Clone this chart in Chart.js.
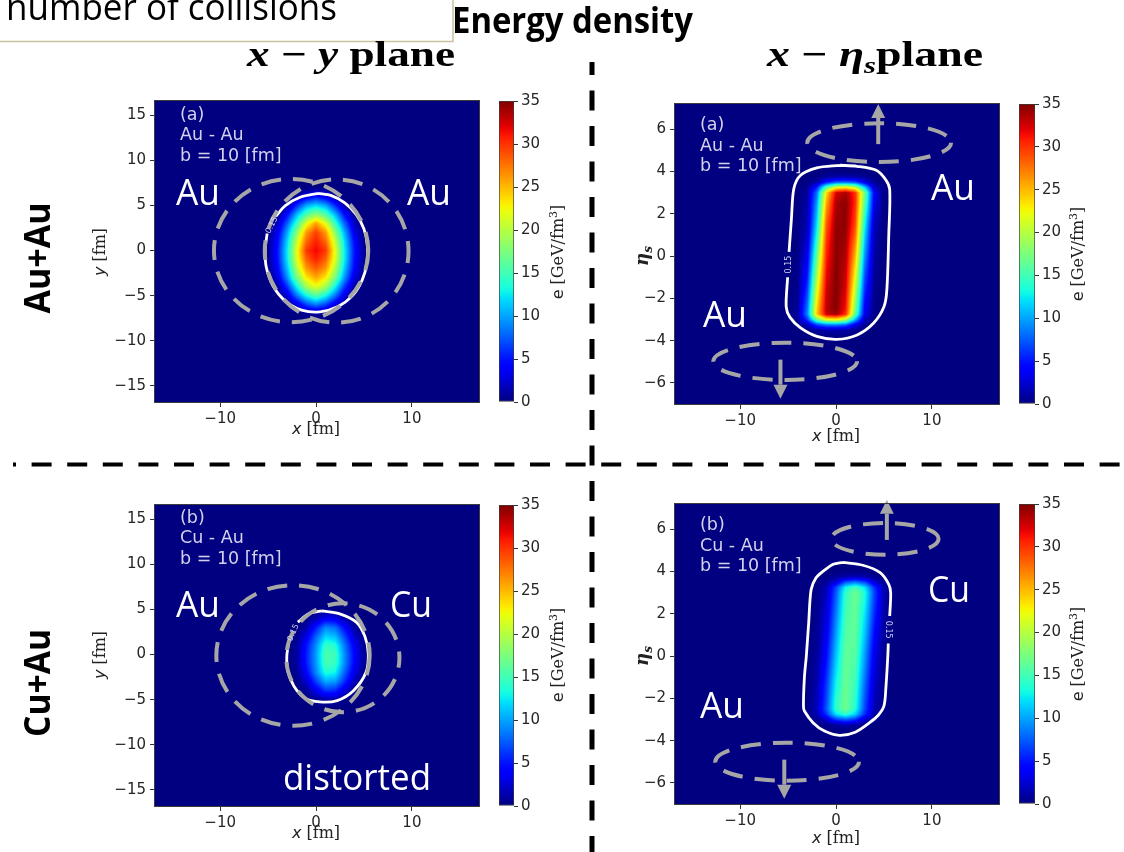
<!DOCTYPE html>
<html><head><meta charset="utf-8">
<script src="https://cdn.jsdelivr.net/npm/chart.js@4.4.1/dist/chart.umd.min.js"></script>
<style>
html,body{margin:0;padding:0;background:#fff;}
#page{position:relative;width:1124px;height:852px;overflow:hidden;background:#fff;}
canvas{position:absolute;}
#ov{position:absolute;left:0;top:0;pointer-events:none;}
</style></head><body>
<div id="page">
<canvas id="pA"></canvas><canvas id="pB"></canvas><canvas id="pC"></canvas><canvas id="pD"></canvas>
<canvas id="cA"></canvas><canvas id="cB"></canvas><canvas id="cC"></canvas><canvas id="cD"></canvas>
<svg id="ov" width="1124" height="852" xmlns="http://www.w3.org/2000/svg">
  <rect x="-3" y="-10" width="456" height="51.5" fill="none" stroke="#c9c19f" stroke-width="1.5"/>
  <text x="6" y="20" font-family="'Open Sans'" font-size="36" fill="#000" textLength="331" lengthAdjust="spacingAndGlyphs">number of collisions</text>
  <text x="452" y="33" font-family="'Open Sans'" font-weight="bold" font-size="36" fill="#000" textLength="241" lengthAdjust="spacingAndGlyphs">Energy density</text>
  <text x="247" y="65.5" font-family="'Liberation Serif'" font-weight="bold" font-size="36" fill="#000" textLength="208" lengthAdjust="spacingAndGlyphs"><tspan font-style="italic">x</tspan> − <tspan font-style="italic">y</tspan> plane</text>
  <text x="767" y="65.5" font-family="'Liberation Serif'" font-weight="bold" font-size="36" fill="#000" textLength="216" lengthAdjust="spacingAndGlyphs"><tspan font-style="italic">x</tspan> − <tspan font-style="italic">η</tspan><tspan font-style="italic" font-size="24" dy="7">s</tspan><tspan dy="-7">plane</tspan></text>
  <line x1="592" y1="62" x2="592" y2="852" stroke="#000" stroke-width="5" stroke-dasharray="20 15.5" stroke-dashoffset="7"/>
  <line x1="13" y1="464.5" x2="1124" y2="464.5" stroke="#000" stroke-width="4" stroke-dasharray="20 15.6" stroke-dashoffset="17"/>
  <text transform="translate(50,258) rotate(-90)" text-anchor="middle" font-family="'Open Sans'" font-weight="bold" font-size="36" fill="#000" textLength="111" lengthAdjust="spacingAndGlyphs">Au+Au</text>
  <text transform="translate(50,683) rotate(-90)" text-anchor="middle" font-family="'Open Sans'" font-weight="bold" font-size="36" fill="#000" textLength="108" lengthAdjust="spacingAndGlyphs">Cu+Au</text>
  <g font-family="'Open Sans'" font-size="36" fill="#fff">
    <text x="176" y="205" textLength="44" lengthAdjust="spacingAndGlyphs">Au</text>
    <text x="407" y="205" textLength="44" lengthAdjust="spacingAndGlyphs">Au</text>
    <text x="931" y="200" textLength="44" lengthAdjust="spacingAndGlyphs">Au</text>
    <text x="703" y="326.5" textLength="44" lengthAdjust="spacingAndGlyphs">Au</text>
    <text x="176" y="616.5" textLength="44" lengthAdjust="spacingAndGlyphs">Au</text>
    <text x="390" y="616.5" textLength="42" lengthAdjust="spacingAndGlyphs">Cu</text>
    <text x="283" y="790" textLength="148" lengthAdjust="spacingAndGlyphs">distorted</text>
    <text x="928" y="601.5" textLength="42" lengthAdjust="spacingAndGlyphs">Cu</text>
    <text x="700" y="718" textLength="44" lengthAdjust="spacingAndGlyphs">Au</text>
  </g>
  <g font-family="'DejaVu Sans'" font-size="17.5" fill="#d2d2ee">
    <text x="180" y="119.5">(a)</text><text x="180" y="140">Au - Au</text><text x="180" y="160.5">b = 10 [fm]</text>
    <text x="700" y="130">(a)</text><text x="700" y="150.5">Au - Au</text><text x="700" y="171">b = 10 [fm]</text>
    <text x="180" y="522.5">(b)</text><text x="180" y="543">Cu - Au</text><text x="180" y="563.5">b = 10 [fm]</text>
    <text x="700" y="530">(b)</text><text x="700" y="550.5">Cu - Au</text><text x="700" y="571">b = 10 [fm]</text>
  </g>
  <g font-size="16" fill="#222">
    <text x="316" y="434" text-anchor="middle"><tspan font-family="'DejaVu Sans'" font-style="italic">x</tspan><tspan font-family="'DejaVu Serif'"> [fm]</tspan></text>
    <text x="836" y="441" text-anchor="middle"><tspan font-family="'DejaVu Sans'" font-style="italic">x</tspan><tspan font-family="'DejaVu Serif'"> [fm]</tspan></text>
    <text x="316" y="838" text-anchor="middle"><tspan font-family="'DejaVu Sans'" font-style="italic">x</tspan><tspan font-family="'DejaVu Serif'"> [fm]</tspan></text>
    <text x="836" y="843" text-anchor="middle"><tspan font-family="'DejaVu Sans'" font-style="italic">x</tspan><tspan font-family="'DejaVu Serif'"> [fm]</tspan></text>
    <text transform="translate(105,252) rotate(-90)" text-anchor="middle"><tspan font-family="'DejaVu Sans'" font-style="italic">y</tspan><tspan font-family="'DejaVu Serif'"> [fm]</tspan></text>
    <text transform="translate(105,655) rotate(-90)" text-anchor="middle"><tspan font-family="'DejaVu Sans'" font-style="italic">y</tspan><tspan font-family="'DejaVu Serif'"> [fm]</tspan></text>
    <text transform="translate(648,256) rotate(-90)" text-anchor="middle" font-family="'DejaVu Serif'" font-weight="bold" font-style="italic" font-size="18">η<tspan font-size="12" dy="4">s</tspan></text>
    <text transform="translate(648,656) rotate(-90)" text-anchor="middle" font-family="'DejaVu Serif'" font-weight="bold" font-style="italic" font-size="18">η<tspan font-size="12" dy="4">s</tspan></text>
    <text transform="translate(563,252) rotate(-90)" text-anchor="middle"><tspan font-family="'DejaVu Sans'">e </tspan><tspan font-family="'DejaVu Serif'">[GeV/fm</tspan><tspan font-family="'DejaVu Serif'" font-size="11" dy="-6">3</tspan><tspan font-family="'DejaVu Serif'" dy="6">]</tspan></text>
    <text transform="translate(1083,254) rotate(-90)" text-anchor="middle"><tspan font-family="'DejaVu Sans'">e </tspan><tspan font-family="'DejaVu Serif'">[GeV/fm</tspan><tspan font-family="'DejaVu Serif'" font-size="11" dy="-6">3</tspan><tspan font-family="'DejaVu Serif'" dy="6">]</tspan></text>
    <text transform="translate(563,655) rotate(-90)" text-anchor="middle"><tspan font-family="'DejaVu Sans'">e </tspan><tspan font-family="'DejaVu Serif'">[GeV/fm</tspan><tspan font-family="'DejaVu Serif'" font-size="11" dy="-6">3</tspan><tspan font-family="'DejaVu Serif'" dy="6">]</tspan></text>
    <text transform="translate(1083,654) rotate(-90)" text-anchor="middle"><tspan font-family="'DejaVu Sans'">e </tspan><tspan font-family="'DejaVu Serif'">[GeV/fm</tspan><tspan font-family="'DejaVu Serif'" font-size="11" dy="-6">3</tspan><tspan font-family="'DejaVu Serif'" dy="6">]</tspan></text>
  </g>
  <g id="clabels" font-family="'DejaVu Sans'" font-size="8" fill="#d2d2f2"></g>
</svg>
</div>
<script>
// ---------------- data ----------------
const xTicks = [-10, 0, 10];
const yTicksXY = [-15, -10, -5, 0, 5, 10, 15];
const etaTicks = [-6, -4, -2, 0, 2, 4, 6];
const cbarTicks = [0, 5, 10, 15, 20, 25, 30, 35];

// (a) Au-Au, x-y plane: energy density e [GeV/fm^3]
const auauXY_x = [-6, -5, -4, -3, -2, -1, 0, 1, 2, 3, 4, 5, 6];
const auauXY_y = [7, 6, 5, 4, 3, 2, 1, 0, -1, -2, -3, -4, -5, -6, -7, -8];
const auauXY_e = [
  [0,0,0,0,0,0,0,0,0,0,0,0,0],
  [0,0,0,0,0.7,3.2,5.0,3.2,0.7,0,0,0,0],
  [0,0,0,0.9,5.8,10.2,11.8,10.2,5.8,0.9,0,0,0],
  [0,0,0.5,4.5,10.7,15.7,18.3,15.7,10.7,4.5,0.5,0,0],
  [0,0,1.9,7.7,14.6,21.9,26.0,21.9,14.6,7.7,1.9,0,0],
  [0,0.1,3.4,10.2,18.2,26.2,29.6,26.2,18.2,10.2,3.4,0.1,0],
  [0,0.45,4.5,11.7,20.6,28.1,30.8,28.1,20.6,11.7,4.5,0.45,0],
  [0,0.6,5.0,12.5,21.9,29.9,31.7,29.9,21.9,12.5,5.0,0.6,0],
  [0,0.6,4.8,12.3,21.5,28.2,30.7,28.2,21.5,12.3,4.8,0.6,0],
  [0,0.3,4.1,11.1,19.7,26.2,28.4,26.2,19.7,11.1,4.1,0.3,0],
  [0,0,2.8,9.3,17.2,23.2,25.6,23.2,17.2,9.3,2.8,0,0],
  [0,0,1.0,6.1,12.9,19.3,22.0,19.3,12.9,6.1,1.0,0,0],
  [0,0,0,2.6,8.4,13.0,15.7,13.0,8.4,2.6,0,0,0],
  [0,0,0,0.2,2.7,6.6,8.6,6.6,2.7,0.2,0,0,0],
  [0,0,0,0,0,0.5,0.8,0.5,0,0,0,0,0],
  [0,0,0,0,0,0,0,0,0,0,0,0,0]
];
const auauXY_contour = [[0.2,6.35],[1.6,6.1],[3.0,5.3],[4.2,4.0],[5.0,2.4],[5.35,0.6],[5.3,-1.4],[4.8,-3.3],[3.8,-5.0],[2.3,-6.2],[0.4,-6.8],[-1.5,-6.6],[-3.2,-5.6],[-4.5,-3.9],[-5.2,-1.8],[-5.3,0.2],[-5.1,1.9],null,[-4.2,3.8],[-3.2,5.0],[-1.6,5.95],[0.2,6.35]];

// (a) Au-Au, x-eta_s plane
const auauXE_x = [-5, -4, -3, -2, -1, 0, 1, 2, 3, 4, 5, 6];
const auauXE_eta = [4.0, 3.75, 3.5, 3.25, 3.0, 2.5, 2.0, 1.5, 1.0, 0.5, 0, -0.5, -1.0, -1.5, -2.0, -2.5, -2.75, -3.0, -3.25, -3.5, -3.75, -4.0];
const auauXE_e = [
  [0,0,0,0,0,0,0,0,0,0,0,0],
  [0,0,0,0.2,0.8,1.2,1.3,1.1,0.6,0.1,0,0],
  [0,0,0.1,1.1,4.9,7.3,7.7,6.8,3.1,0.5,0,0],
  [0,0,0.5,5.4,16.0,22.0,23.0,20.5,11.6,2.1,0.2,0],
  [0,0,0.9,8.3,23.5,32.3,33.8,30.2,17.1,3.8,0.2,0],
  [0,0,1.1,9.8,25.6,33.7,34.7,30.5,16.1,3.2,0.2,0],
  [0,0.1,1.3,10.9,27.1,34.0,34.6,29.8,14.5,2.4,0.1,0],
  [0,0.1,1.5,12.1,28.5,34.4,34.5,29.2,13.0,1.8,0.1,0],
  [0,0.1,2.0,13.5,29.4,34.6,34.3,28.0,11.7,1.4,0.1,0],
  [0,0.2,2.6,15.1,30.1,34.7,33.9,26.6,10.6,1.2,0,0],
  [0,0.2,3.4,16.6,30.7,34.7,33.5,25.2,9.4,1.0,0,0],
  [0,0.3,4.2,18.1,31.3,34.8,33.2,23.7,8.2,0.8,0,0],
  [0,0.3,5.1,19.6,31.9,34.9,32.8,22.3,7.0,0.6,0,0],
  [0,0.4,6.1,21.1,32.5,35.0,32.5,20.9,6.0,0.4,0,0],
  [0,0.6,7.3,22.6,32.9,34.9,31.8,19.3,4.9,0.3,0,0],
  [0,0.8,8.5,24.0,33.3,34.8,31.2,17.8,3.8,0.3,0,0],
  [0,0.9,8.9,24.3,32.8,34.1,30.2,16.6,3.4,0.2,0,0],
  [0,0.6,6.3,16.8,22.2,22.9,20.1,10.7,1.7,0.1,0,0],
  [0,0.2,1.6,6.6,8.7,9.0,7.9,3.4,0.5,0,0,0],
  [0,0,0.3,1.0,1.4,1.4,1.2,0.6,0.1,0,0,0],
  [0,0,0,0.2,0.3,0.3,0.3,0.1,0,0,0,0],
  [0,0,0,0,0,0,0,0,0,0,0,0]
];
const auauXE_contour = [[0.4,4.3],[2.2,4.25],[4.2,4.06],[5.2,3.6],[5.6,3.15],[5.5,1.0],[5.3,-1.6],[5.0,-2.4],[3.9,-3.18],[2.2,-3.73],[0.1,-3.94],[-2.0,-3.8],[-3.7,-3.4],[-4.8,-2.9],[-5.2,-2.4],[-5.05,-1.0],null,[-4.9,0.2],[-4.65,1.8],[-4.4,3.2],[-3.7,3.83],[-2.0,4.18],[0.4,4.3]];

// (b) Cu-Au, x-y plane
const cuauXY_x = [-4, -3, -2, -1, 0, 1, 2, 3, 4, 5, 6, 7];
const cuauXY_y = [6, 5, 4, 3, 2, 1, 0, -1, -2, -3, -4, -5, -6, -7];
const cuauXY_e = [
  [0,0,0,0,0,0,0,0,0,0,0,0],
  [0,0,0,0,0,0.3,0.25,0,0,0,0,0],
  [0,0,0,0.2,1.5,3.5,3.2,1.1,0.05,0,0,0],
  [0,0,0,1.3,5.2,9.0,8.2,4.4,0.9,0,0,0],
  [0,0,0.45,3.2,7.7,11.7,10.9,6.7,2.4,0.23,0,0],
  [0,0,0.82,4.9,9.3,14.5,13.8,8.4,3.7,0.53,0,0],
  [0,0,1.0,5.25,9.75,15.4,14.8,9.1,4.3,0.69,0,0],
  [0,0,0.93,5.15,9.6,15.1,14.5,9.0,4.1,0.63,0,0],
  [0,0,0.65,4.1,9.0,13.6,12.8,7.6,3.1,0.4,0,0],
  [0,0,0.23,2.3,6.5,10.1,9.7,5.7,1.6,0.03,0,0],
  [0,0,0,0.7,3.3,6.1,5.7,2.6,0.45,0,0,0],
  [0,0,0,0,0.5,1.2,1.1,0.4,0,0,0,0],
  [0,0,0,0,0,0,0,0,0,0,0,0],
  [0,0,0,0,0,0,0,0,0,0,0,0]
];
const cuauXY_contour = [[0.6,4.85],[2.4,4.55],[4.2,3.6],[5.1,2.0],[5.45,0.1],[5.2,-2.0],[3.9,-4.0],[2.2,-5.1],[0.4,-5.25],[-1.2,-4.8],[-2.3,-3.5],[-2.95,-1.8],[-3.05,-0.2],[-2.85,1.3],null,[-1.9,3.6],[-0.8,4.5],[0.6,4.85]];

// (b) Cu-Au, x-eta_s plane
const cuauXE_x = [-4, -3, -2, -1, 0, 1, 2, 3, 4, 5, 6, 7];
const cuauXE_eta = [4.25, 4.0, 3.75, 3.5, 3.25, 3.0, 2.5, 2.0, 1.5, 1.0, 0.5, 0, -0.5, -1.0, -1.5, -2.0, -2.5, -2.75, -3.0, -3.25, -3.5, -3.75];
const cuauXE_e = [
  [0,0,0,0,0,0,0,0,0,0,0,0],
  [0,0,0,0,0.1,0.2,0.2,0.2,0.1,0,0,0],
  [0,0,0,0.2,0.6,1.3,1.7,1.2,0.5,0.1,0,0],
  [0,0,0.1,0.8,2.9,7.2,8.5,6.8,2.5,0.6,0.1,0],
  [0,0,0.2,1.5,6.7,12.9,15.2,12.2,6.0,1.3,0.2,0],
  [0,0,0.2,1.8,7.4,14.3,16.9,13.6,6.7,1.5,0.2,0],
  [0,0,0.3,2.2,8.1,14.7,16.8,13.0,6.3,1.3,0.1,0],
  [0,0,0.4,2.6,8.7,15.1,16.6,12.3,5.7,1.1,0.1,0],
  [0,0,0.4,3.0,9.3,15.5,16.5,11.7,5.1,0.9,0.1,0],
  [0,0,0.6,3.4,9.9,15.8,16.3,11.1,4.4,0.8,0.1,0],
  [0,0,0.6,4.0,10.6,16.2,16.2,10.4,3.8,0.6,0,0],
  [0,0.1,0.8,4.5,11.2,16.4,15.8,9.8,3.3,0.5,0,0],
  [0,0.1,1.0,5.2,11.8,16.5,15.4,9.2,2.9,0.4,0,0],
  [0,0.1,1.1,5.8,12.5,16.6,15.0,8.5,2.5,0.4,0,0],
  [0,0.1,1.4,6.4,13.1,16.8,14.6,7.9,2.1,0.3,0,0],
  [0,0.2,1.5,6.8,13.9,16.9,14.2,7.3,1.8,0.2,0,0],
  [0,0.2,1.8,7.3,14.2,16.9,13.7,6.8,1.5,0.2,0,0],
  [0,0.2,1.4,6.2,12.1,14.4,11.6,5.8,1.2,0.1,0,0],
  [0,0.1,0.6,2.4,6.4,7.6,6.2,2.2,0.6,0.1,0,0],
  [0,0,0.2,0.4,1.0,1.4,1.0,0.4,0.1,0,0,0],
  [0,0,0,0.1,0.2,0.2,0.2,0.1,0,0,0,0],
  [0,0,0,0,0,0,0,0,0,0,0,0]
];
const cuauXE_contour = [[0.7,4.44],[2.8,4.3],[4.6,3.95],[5.5,3.4],[5.7,3.0],[5.6,1.9],null,[5.45,0.6],[5.4,0],[5.2,-1.5],[5.0,-2.36],[4.4,-2.8],[3.5,-3.15],[2.0,-3.6],[0.35,-3.75],[-1.2,-3.55],[-2.4,-3.15],[-3.3,-2.6],[-3.4,-2.36],[-3.3,-1.0],[-3.1,0],[-2.85,1.6],[-2.6,3.15],[-2.1,3.7],[-1.4,4.0],[-0.3,4.35],[0.7,4.44]];

// ---------------- colormap (jet) ----------------
const JR = [[0,0],[0.35,0],[0.66,1],[0.89,1],[1,0.5]];
const JG = [[0,0],[0.125,0],[0.375,1],[0.64,1],[0.91,0],[1,0]];
const JB = [[0,0.5],[0.11,1],[0.34,1],[0.65,0],[1,0]];
function seg(t, tab){
  if (t <= tab[0][0]) return tab[0][1];
  for (let k = 1; k < tab.length; k++){
    if (t <= tab[k][0]){ const a = tab[k-1], b = tab[k]; return a[1] + (b[1]-a[1])*(t-a[0])/(b[0]-a[0]); }
  }
  return tab[tab.length-1][1];
}
function jet(t){ t = Math.max(0, Math.min(1, t)); return [seg(t,JR)*255, seg(t,JG)*255, seg(t,JB)*255]; }
function jetCss(t){ const c = jet(t); return 'rgb(' + c.map(Math.round).join(',') + ')'; }

function prepGrid(xs, ys, z){
  let rows = ys.map((y, j) => ({y, r: z[j]}));
  rows.sort((a, b) => a.y - b.y);
  return {xs: xs.slice(), ys: rows.map(r => r.y), z: rows.map(r => r.r)};
}
function findSeg(arr, v){
  if (v < arr[0] || v > arr[arr.length-1]) return -1;
  for (let k = 0; k < arr.length-1; k++) if (v <= arr[k+1]) return k;
  return arr.length-2;
}
function sample(g, x, y){
  const i = findSeg(g.xs, x), j = findSeg(g.ys, y);
  if (i < 0 || j < 0) return 0;
  const tx = (x - g.xs[i])/(g.xs[i+1]-g.xs[i]), ty = (y - g.ys[j])/(g.ys[j+1]-g.ys[j]);
  const a = g.z[j][i], b = g.z[j][i+1], c = g.z[j+1][i], d = g.z[j+1][i+1];
  return (a*(1-tx)+b*tx)*(1-ty) + (c*(1-tx)+d*tx)*ty;
}

const VMAX = cbarTicks[cbarTicks.length-1];

const heatPlugin = {
  id: 'heat',
  beforeDatasetsDraw(chart){
    const ds = chart.data.datasets[0];
    if (!ds || !ds.grid) return;
    const g = ds.grid;
    const ca = chart.chartArea;
    const w = Math.round(ca.right - ca.left), h = Math.round(ca.bottom - ca.top);
    const off = document.createElement('canvas'); off.width = w; off.height = h;
    const octx = off.getContext('2d');
    const img = octx.createImageData(w, h);
    const sx = chart.scales.x, sy = chart.scales.y;
    const xv = []; for (let i = 0; i < w; i++) xv.push(sx.getValueForPixel(ca.left + i + 0.5));
    for (let j = 0; j < h; j++){
      const yv = sy.getValueForPixel(ca.top + j + 0.5);
      for (let i = 0; i < w; i++){
        const c = jet(sample(g, xv[i], yv)/VMAX);
        const p = (j*w + i)*4;
        img.data[p] = c[0]; img.data[p+1] = c[1]; img.data[p+2] = c[2]; img.data[p+3] = 255;
      }
    }
    octx.putImageData(img, 0, 0);
    chart.ctx.drawImage(off, ca.left, ca.top);
  },
  afterDatasetsDraw(chart, args, opts){
    const ctx = chart.ctx, sx = chart.scales.x, sy = chart.scales.y;
    ctx.save();
    ctx.strokeStyle = '#a6a6a6'; ctx.fillStyle = '#a6a6a6';
    ctx.lineWidth = 4; ctx.lineCap = 'butt';
    (opts.ellipses || []).forEach(e => {
      const cx = sx.getPixelForValue(e.cx), cy = sy.getPixelForValue(e.cy);
      const rx = Math.abs(sx.getPixelForValue(e.cx + e.rx) - cx), ry = Math.abs(sy.getPixelForValue(e.cy + e.ry) - cy);
      ctx.setLineDash([20, 12]); ctx.lineDashOffset = e.off || 0;
      ctx.beginPath(); ctx.ellipse(cx, cy, rx, ry, 0, 0, Math.PI*2); ctx.stroke();
    });
    ctx.setLineDash([]);
    (opts.arrows || []).forEach(a => {
      const x = sx.getPixelForValue(a.x), y0 = sy.getPixelForValue(a.y0), y1 = sy.getPixelForValue(a.y1);
      const dir = y1 < y0 ? -1 : 1, hl = 14, hw = 7;
      ctx.beginPath(); ctx.moveTo(x, y0); ctx.lineTo(x, y1 - dir*hl); ctx.stroke();
      ctx.beginPath(); ctx.moveTo(x, y1); ctx.lineTo(x - hw, y1 - dir*hl); ctx.lineTo(x + hw, y1 - dir*hl); ctx.closePath(); ctx.fill();
    });
    ctx.restore();
  },
  afterDraw(chart){
    const ca = chart.chartArea, ctx = chart.ctx;
    ctx.save(); ctx.strokeStyle = '#3c3c3c'; ctx.lineWidth = 1;
    ctx.strokeRect(Math.round(ca.left) - 0.5, Math.round(ca.top) - 0.5, Math.round(ca.right - ca.left) + 1, Math.round(ca.bottom - ca.top) + 1);
    ctx.restore();
  }
};

const fmt = v => (v < 0 ? '\u2212' + Math.abs(v) : String(v));
const tickFont = {family: 'DejaVu Sans', size: 15};
const tickColor = '#262626';

function placeCanvas(id, r){
  const cv = document.getElementById(id);
  cv.width = r.W; cv.height = r.H; cv.style.left = r.L + 'px'; cv.style.top = r.T + 'px';
  return cv;
}

function makePanel(p){
  const cv = placeCanvas(p.id, p.rect);
  const r = p.rect, a = p.area;
  const yW = a.l - r.L, xH = r.T + r.H - a.b;
  const g = prepGrid(p.gx, p.gy, p.gz);
  const cells = [];
  p.gy.forEach((y, j) => p.gx.forEach((x, i) => cells.push({x, y, v: p.gz[j][i]})));
  const cont = p.contour.map(q => q ? {x: q[0], y: q[1]} : {x: null, y: null});
  const chart = new Chart(cv, {
    type: 'scatter',
    data: {datasets: [
      {label: 'e', data: cells, grid: g, pointRadius: 0, showLine: false},
      {label: 'e = 0.15', data: cont, showLine: true, borderColor: '#ffffff', borderWidth: 2.8, pointRadius: 0, tension: 0.3, spanGaps: false, fill: false}
    ]},
    options: {
      responsive: false, animation: false, events: [],
      layout: {padding: {left: 0, top: a.t - r.T, right: r.L + r.W - a.r, bottom: 0}},
      plugins: {legend: {display: false}, tooltip: {enabled: false}, heat: {ellipses: p.ellipses, arrows: p.arrows}},
      scales: {
        x: {type: 'linear', min: p.xr[0], max: p.xr[1],
            afterBuildTicks: s => { s.ticks = xTicks.map(v => ({value: v})); },
            afterFit: s => { s.height = xH; },
            ticks: {font: tickFont, color: tickColor, padding: 3, autoSkip: false, maxRotation: 0, callback: fmt},
            grid: {drawOnChartArea: false, drawTicks: true, tickLength: 5, color: '#333'},
            border: {display: false}},
        y: {type: 'linear', min: p.yr[0], max: p.yr[1],
            afterBuildTicks: s => { s.ticks = p.yTicks.map(v => ({value: v})); },
            afterFit: s => { s.width = yW; },
            ticks: {font: tickFont, color: tickColor, padding: 4, autoSkip: false, callback: fmt},
            grid: {drawOnChartArea: false, drawTicks: true, tickLength: 5, color: '#333'},
            border: {display: false}}
      }
    },
    plugins: [heatPlugin]
  });
  const cl = p.clabel;
  const px = chart.scales.x.getPixelForValue(cl.x) + r.L, py = chart.scales.y.getPixelForValue(cl.y) + r.T;
  const t = document.createElementNS('http://www.w3.org/2000/svg', 'text');
  t.setAttribute('transform', 'translate(' + px.toFixed(1) + ',' + py.toFixed(1) + ') rotate(' + cl.rot + ')');
  t.setAttribute('text-anchor', 'middle'); t.setAttribute('dominant-baseline', 'central');
  t.textContent = '0.15';
  document.getElementById('clabels').appendChild(t);
  return chart;
}

function makeBar(id, r, a){
  const cv = placeCanvas(id, r);
  const axW = r.L + r.W - a.r;
  return new Chart(cv, {
    type: 'bar',
    data: {labels: ['e'], datasets: [{
      label: 'e [GeV/fm3]',
      data: [[cbarTicks[0], VMAX]],
      backgroundColor: ctx => {
        const ca = ctx.chart.chartArea; if (!ca) return '#000080';
        const gr = ctx.chart.ctx.createLinearGradient(0, ca.bottom, 0, ca.top);
        for (let k = 0; k <= 60; k++) gr.addColorStop(k/60, jetCss(k/60));
        return gr;
      },
      borderColor: '#3c3c3c', borderWidth: 1, borderSkipped: false,
      categoryPercentage: 1, barPercentage: 1
    }]},
    options: {
      responsive: false, animation: false, events: [],
      layout: {padding: {left: a.l - r.L, top: a.t - r.T, right: 0, bottom: r.T + r.H - a.b}},
      plugins: {legend: {display: false}, tooltip: {enabled: false}},
      scales: {
        x: {display: false},
        y: {position: 'right', min: cbarTicks[0], max: VMAX,
            afterBuildTicks: s => { s.ticks = cbarTicks.map(v => ({value: v})); },
            afterFit: s => { s.width = axW; },
            ticks: {font: tickFont, color: tickColor, padding: 3, autoSkip: false},
            grid: {drawOnChartArea: false, drawTicks: true, tickLength: 4, color: '#333'},
            border: {display: false}}
      }
    }
  });
}

const XR = [-16.8, 17.0], YR = [-16.8, 16.6], ER = [-7.0, 7.2];

makePanel({id: 'pA', rect: {L: 80, T: 85, W: 415, H: 375}, area: {l: 155, t: 101, r: 479, b: 402},
  xr: XR, yr: YR, yTicks: yTicksXY, gx: auauXY_x, gy: auauXY_y, gz: auauXY_e, contour: auauXY_contour,
  ellipses: [{cx: -2.6, cy: 0, rx: 8.05, ry: 7.95}, {cx: 2.15, cy: -0.05, rx: 7.5, ry: 7.95, off: 8}], arrows: [],
  clabel: {x: -4.65, y: 2.85, rot: -63}});
makePanel({id: 'pB', rect: {L: 600, T: 88, W: 415, H: 372}, area: {l: 675, t: 104, r: 999, b: 404},
  xr: XR, yr: ER, yTicks: etaTicks, gx: auauXE_x, gy: auauXE_eta, gz: auauXE_e, contour: auauXE_contour,
  ellipses: [{cx: 4.5, cy: 5.37, rx: 7.5, ry: 0.92, off: 6}, {cx: -5.3, cy: -4.98, rx: 7.5, ry: 0.88, off: 6}],
  arrows: [{x: 4.4, y0: 5.3, y1: 7.2}, {x: -5.8, y0: -4.9, y1: -6.75}],
  clabel: {x: -5.0, y: -0.4, rot: -90}});
makePanel({id: 'pC', rect: {L: 80, T: 489, W: 415, H: 363}, area: {l: 155, t: 505, r: 479, b: 806},
  xr: XR, yr: YR, yTicks: yTicksXY, gx: cuauXY_x, gy: cuauXY_y, gz: cuauXY_e, contour: cuauXY_contour,
  ellipses: [{cx: -2.4, cy: -0.1, rx: 8.0, ry: 7.8}, {cx: 2.8, cy: -0.35, rx: 5.9, ry: 6.05, off: 10}], arrows: [],
  clabel: {x: -2.4, y: 2.45, rot: -66}});
makePanel({id: 'pD', rect: {L: 600, T: 488, W: 415, H: 364}, area: {l: 675, t: 504, r: 999, b: 804},
  xr: XR, yr: ER, yTicks: etaTicks, gx: cuauXE_x, gy: cuauXE_eta, gz: cuauXE_e, contour: cuauXE_contour,
  ellipses: [{cx: 5.1, cy: 5.55, rx: 5.6, ry: 0.75, off: 6}, {cx: -5.1, cy: -5.0, rx: 7.5, ry: 0.9, off: 6}],
  arrows: [{x: 5.3, y0: 5.5, y1: 7.4}, {x: -5.4, y0: -4.9, y1: -6.75}],
  clabel: {x: 5.5, y: 1.25, rot: 90}});

makeBar('cA', {L: 483, T: 85, W: 81, H: 333}, {l: 499, t: 101, r: 514, b: 402});
makeBar('cB', {L: 1003, T: 88, W: 82, H: 332}, {l: 1019, t: 104, r: 1035, b: 404});
makeBar('cC', {L: 483, T: 489, W: 81, H: 333}, {l: 499, t: 505, r: 514, b: 806});
makeBar('cD', {L: 1003, T: 488, W: 82, H: 332}, {l: 1019, t: 504, r: 1035, b: 804});
</script>
</body></html>
